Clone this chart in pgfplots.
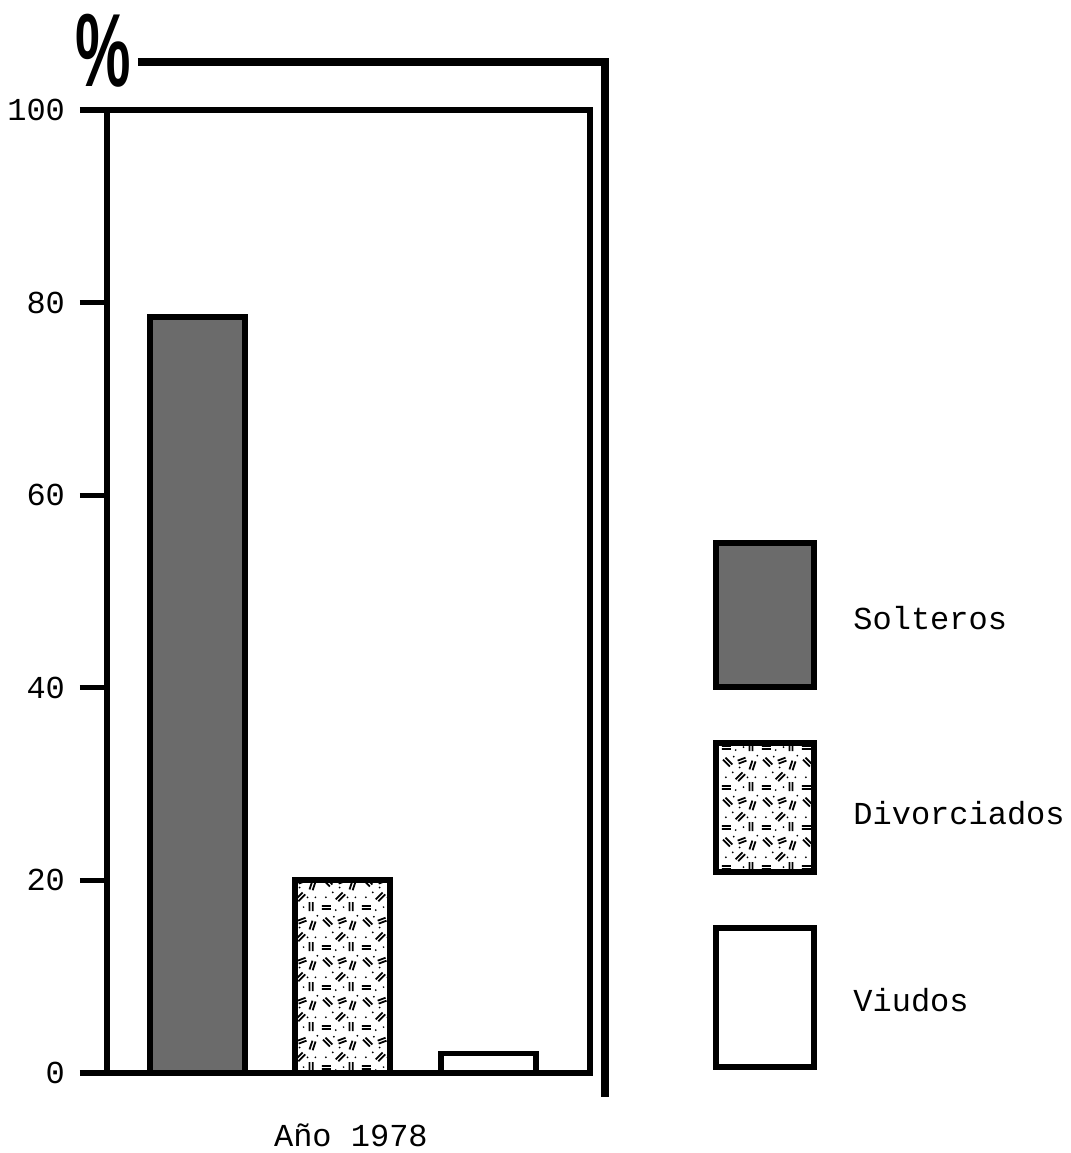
\documentclass[border=0pt]{standalone}
\usepackage{fontspec}
\setmainfont{Liberation Mono}
\newfontfamily\pctfont{Liberation Sans}
\usepackage{graphicx}
\usepackage{pgfplots}
\pgfplotsset{compat=1.18}
\usetikzlibrary{patterns}

\pgfdeclarepatternformonly{confetti}{\pgfpointorigin}{\pgfpoint{20pt}{20pt}}{\pgfpoint{20pt}{20pt}}{%
  \pgfsetlinewidth{0.9pt}%
  % horizontal pair
  \pgfpathmoveto{\pgfpoint{1pt}{2pt}}\pgfpathlineto{\pgfpoint{5.5pt}{2pt}}%
  \pgfpathmoveto{\pgfpoint{1pt}{3.6pt}}\pgfpathlineto{\pgfpoint{5.5pt}{3.6pt}}%
  % diagonal pair (NE)
  \pgfpathmoveto{\pgfpoint{8pt}{7pt}}\pgfpathlineto{\pgfpoint{11.5pt}{10.5pt}}%
  \pgfpathmoveto{\pgfpoint{9.3pt}{6pt}}\pgfpathlineto{\pgfpoint{12.8pt}{9.5pt}}%
  % vertical pair
  \pgfpathmoveto{\pgfpoint{15pt}{1pt}}\pgfpathlineto{\pgfpoint{15pt}{5.5pt}}%
  \pgfpathmoveto{\pgfpoint{16.6pt}{1pt}}\pgfpathlineto{\pgfpoint{16.6pt}{5.5pt}}%
  % diagonal pair (NW)
  \pgfpathmoveto{\pgfpoint{1.5pt}{17pt}}\pgfpathlineto{\pgfpoint{5pt}{13.5pt}}%
  \pgfpathmoveto{\pgfpoint{2.8pt}{18pt}}\pgfpathlineto{\pgfpoint{6.3pt}{14.5pt}}%
  % steep pair
  \pgfpathmoveto{\pgfpoint{15pt}{12pt}}\pgfpathlineto{\pgfpoint{16.5pt}{16.5pt}}%
  \pgfpathmoveto{\pgfpoint{16.6pt}{11.6pt}}\pgfpathlineto{\pgfpoint{18.1pt}{16.1pt}}%
  % shallow pair
  \pgfpathmoveto{\pgfpoint{9pt}{16.5pt}}\pgfpathlineto{\pgfpoint{13pt}{18pt}}%
  \pgfpathmoveto{\pgfpoint{9.5pt}{15pt}}\pgfpathlineto{\pgfpoint{13.5pt}{16.5pt}}%
  \pgfusepath{stroke}%
  % dots
  \pgfpathcircle{\pgfpoint{8pt}{1.5pt}}{0.5pt}%
  \pgfpathcircle{\pgfpoint{3pt}{8pt}}{0.5pt}%
  \pgfpathcircle{\pgfpoint{18pt}{8pt}}{0.5pt}%
  \pgfpathcircle{\pgfpoint{10pt}{13pt}}{0.5pt}%
  \pgfpathcircle{\pgfpoint{19pt}{19pt}}{0.5pt}%
  \pgfpathcircle{\pgfpoint{6.5pt}{10.5pt}}{0.5pt}%
  \pgfpathcircle{\pgfpoint{12pt}{3pt}}{0.5pt}%
  \pgfpathcircle{\pgfpoint{7pt}{18.5pt}}{0.5pt}%
  \pgfpathcircle{\pgfpoint{14pt}{8pt}}{0.5pt}%
  \pgfusepath{fill}%
}

\begin{document}
\begin{tikzpicture}
\path[use as bounding box] (-53.5pt,-40pt) rectangle (482pt,536.5pt);
\begin{axis}[
  at={(0pt,0pt)}, anchor=south west,
  scale only axis, width=241.5pt, height=481.5pt,
  xmin=0.378, xmax=3.698, ymin=0, ymax=100,
  clip=false,
  xtick=\empty,
  ytick={0,20,40,60,80,100},
  ytick pos=left,
  tick align=outside,
  major tick length=13.5pt,
  axis line style={line width=2.6pt, black},
  tick style={line width=2.6pt, black},
  /pgf/number format/assume math mode=true,
  yticklabel style={font=\fontsize{16}{19}\selectfont, xshift=-4pt},
  legend style={at={(rel axis cs:1.2547,0.5535)}, anchor=north west,
    draw=none, fill=none, inner sep=0pt, row sep=25pt, column sep=18pt,
    nodes={inner sep=0pt, anchor=west},
    font=\fontsize{16}{19}\selectfont},
  legend cell align=left,
]
\addplot[ybar, bar width=47.5pt, bar shift=0pt, draw=black, line width=3pt, fill=black!58,
  legend image code/.code={\draw[black, line width=3pt, fill=black!58] (0pt,-34pt) rectangle (49pt,38pt);}]
  coordinates {(1,78.5)};
\addlegendentry{Solteros}
\addplot[ybar, bar width=47.5pt, bar shift=0pt, draw=black, line width=3pt, pattern=confetti, pattern color=black,
  legend image code/.code={\draw[black, line width=3pt, pattern=confetti, pattern color=black] (0pt,-29pt) rectangle (49pt,35.5pt);}]
  coordinates {(2,20)};
\addlegendentry{Divorciados}
\addplot[ybar, bar width=47.5pt, bar shift=0pt, draw=black, line width=2.6pt, fill=white,
  legend image code/.code={\draw[black, line width=3pt, fill=white] (0pt,-33pt) rectangle (49pt,36.5pt);}]
  coordinates {(3,2)};
\addlegendentry{Viudos}

\draw[line width=4pt, black] (axis cs:0.591,105) -- (axis cs:3.80,105) -- (axis cs:3.80,-2.5);
\node[inner sep=0pt] at (axis cs:0.350,106.2) {\pctfont\bfseries\fontsize{52}{52}\selectfont\scalebox{0.6}[1]{\%}};
\path (rel axis cs:0.505,0) ++(0pt,-36.5pt) node[anchor=base, font=\fontsize{16}{19}\selectfont] {Año 1978};
\end{axis}
\end{tikzpicture}
\end{document}
